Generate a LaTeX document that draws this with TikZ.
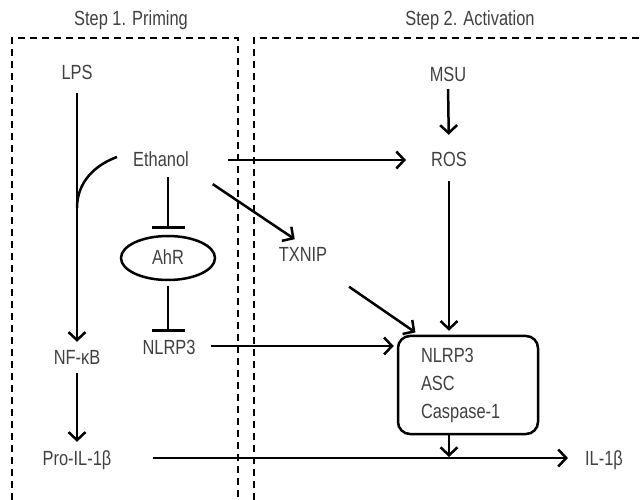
\documentclass[tikz,border=0pt]{standalone}
\usepackage{fontspec}
\setmainfont{Liberation Sans}[FakeStretch=0.8]
\usetikzlibrary{positioning,shapes.geometric,arrows.meta}
\definecolor{txtgray}{RGB}{64,64,64}

\begin{document}
\begin{tikzpicture}[
        x=1pt,y=-1pt,
        txt/.style={
          text=txtgray,
          font=\fontsize{20.5}{28}\selectfont
        },
        lbl/.style={
          txt,
          inner sep=3pt,
          text height=14pt,
          text depth=0pt
        },
        act/.style={
          line width=2.5pt,
          -{Straight Barb[length=8pt,width=17pt,line width=2.5pt]}
        },
        inh/.style={
          line width=2.5pt,
          -{Bar[width=33pt,line width=2.5pt]}
        },
        zone/.style={
          line width=1.5pt,
          dash pattern=on 7pt off 5pt
        }
        ]
        \useasboundingbox (0,0) rectangle (641,500);

        % the two steps
        \node[lbl] (step1) at (131,19) {Step 1. Priming};
        \node[lbl] (step2) at (470,19) {Step 2. Activation};
        \draw[zone] (12,500) -- (12,38) -- (238,38) -- (238,500);
        \draw[zone] (254,500) -- (254,38) -- (641,38);

        % priming
        \node[lbl] (lps) at (77,73) {LPS};
        \node[lbl] (nfkb) at (77,357) {NF-κB};
        \node[lbl] (proil) at (77,458) {Pro-IL-1β};
        \node[lbl] (eth) at (161,160) {Ethanol};
        \node[ellipse,draw,line width=2.5pt,minimum width=94pt,minimum height=44pt,lbl] 
          (ahr) at (168,258) {AhR};
        \node[lbl] (nlrp) at (169,348) {NLRP3};

        % activation
        \node[lbl] (msu) at (448,75) {MSU};
        \node[lbl] (ros) at (449,160) {ROS};
        \node[lbl] (txnip) at (303,255) {TXNIP};
        \node[draw,line width=2.5pt,rounded corners=12pt,txt,
          align=left,text width=94pt,inner xsep=23pt,
          minimum height=98pt] 
          (cplx) at (468,385) {NLRP3\\ASC\\Caspase-1};
        \node[lbl] (il) at (604,458) {IL-1β};

        \coordinate (lpsjoin) at (77,208);

        \draw[act,shorten <=10pt,shorten >=5pt] (lps.south) -- (nfkb.north);
        \draw[line width=2.5pt] ([xshift=-13pt,yshift=3pt]eth.west) 
          .. controls (95,165) and (77,182) .. (lpsjoin);
        \draw[act,shorten <=6pt,shorten >=6pt] (nfkb.south) -- (proil.north);
        \draw[inh,shorten <=7pt,shorten >=6pt] (ahr |- eth.south) -- (ahr.north);
        \draw[inh,shorten <=5pt,shorten >=6pt] (ahr.south) -- (ahr |- nlrp.north);
        \draw[act,shorten <=36pt,shorten >=22pt] (eth.east) -- (ros.west);
        \draw[act,shorten <=25pt,shorten >=10pt] (eth.south east) -- (txnip.north);
        \draw[act,shorten <=4pt,shorten >=15pt] (msu.south) -- (ros.north);
        \draw[act,shorten <=11pt,shorten >=4pt] (ros.south) -- (ros |- cplx.north);
        \draw[act,shorten <=38pt,shorten >=4pt] (txnip) -- ([xshift=22pt]cplx.north west);
        \draw[act,shorten <=12pt,shorten >=3pt] ([yshift=2pt]nlrp.east) -- ([yshift=2pt]cplx.west |- nlrp);
        \draw[act,shorten >=1pt] (ros |- cplx.south) -- (ros |- proil);
        \draw[act,shorten <=38pt,shorten >=14pt] (proil.east) -- (il.west);
\end{tikzpicture}
\end{document}
